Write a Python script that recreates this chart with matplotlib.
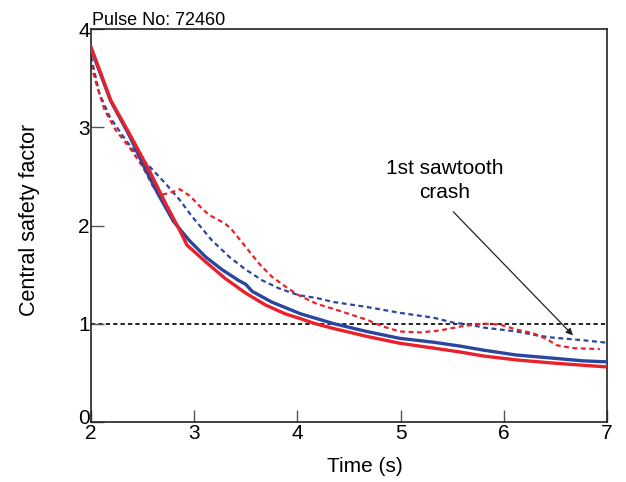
import matplotlib
matplotlib.use("Agg")
import matplotlib.pyplot as plt
import matplotlib.transforms as mtransforms

plt.rcParams['font.family'] = ['Liberation Sans', 'DejaVu Sans']

# Red solid
t_red = [2.0, 2.19, 2.37, 2.56, 2.72, 2.85, 2.93, 3.11, 3.30, 3.50, 3.69, 3.88, 4.03, 4.17, 4.35, 4.67,
         4.99, 5.32, 5.58, 5.80, 6.12, 6.45, 6.77, 6.98]
q_red = [3.82, 3.28, 2.94, 2.57, 2.23, 1.97, 1.80, 1.63, 1.46, 1.31, 1.19, 1.10, 1.05, 1.00, 0.95, 0.87,
         0.80, 0.75, 0.71, 0.67, 0.63, 0.60, 0.575, 0.56]

# Blue solid
t_blue = [2.0, 2.19, 2.37, 2.50, 2.65, 2.80, 2.95, 3.11, 3.27, 3.43, 3.50, 3.56, 3.75, 4.03, 4.35, 4.67,
          4.99, 5.32, 5.58, 5.80, 6.12, 6.45, 6.77, 7.0]
q_blue = [3.80, 3.27, 2.92, 2.63, 2.32, 2.04, 1.85, 1.68, 1.55, 1.44, 1.40, 1.33, 1.22, 1.10, 1.00, 0.92,
          0.85, 0.81, 0.77, 0.73, 0.68, 0.65, 0.62, 0.61]

# Red dashed
t_red_d = [2.0, 2.05, 2.13, 2.24, 2.37, 2.50, 2.60, 2.66, 2.76, 2.86, 2.96, 3.05, 3.14, 3.30, 3.37, 3.50,
           3.63, 3.75, 3.88, 4.01, 4.19, 4.35, 4.67, 4.83, 4.99, 5.19, 5.38, 5.58, 5.80, 5.96, 6.12, 6.29,
           6.42, 6.51, 6.67, 6.93]
q_red_d = [3.64, 3.45, 3.18, 2.97, 2.80, 2.60, 2.40, 2.31, 2.33, 2.37, 2.30, 2.20, 2.11, 2.02, 1.95, 1.78,
           1.61, 1.48, 1.38, 1.29, 1.20, 1.15, 1.04, 0.97, 0.92, 0.91, 0.93, 0.97, 1.00, 0.99, 0.94, 0.90,
           0.84, 0.78, 0.75, 0.74]

# Blue dashed
t_blue_d = [2.0, 2.08, 2.18, 2.31, 2.43, 2.55, 2.72, 2.86, 2.98, 3.17, 3.34, 3.50, 3.66, 3.82, 4.01, 4.19,
            4.35, 4.67, 4.99, 5.32, 5.51, 5.67, 5.80, 6.12, 6.32, 6.45, 6.77, 7.0]
q_blue_d = [3.72, 3.35, 3.11, 2.91, 2.74, 2.62, 2.43, 2.26, 2.09, 1.85, 1.68, 1.55, 1.44, 1.36, 1.29, 1.26,
            1.22, 1.17, 1.11, 1.06, 1.01, 0.99, 0.96, 0.92, 0.88, 0.86, 0.83, 0.805]

x_ticks = [2, 3, 4, 5, 6, 7]
y_ticks = [0, 1, 2, 3, 4]

red = '#e8212b'
blue = '#2c46a0'

fig = plt.figure(figsize=(6.26, 4.82), dpi=100)
ax = fig.add_axes([0.1454, 0.1251, 0.8243, 0.8141])

dash = (0, (2.2, 1.6))
ax.axhline(1.0, color='#222222', lw=1.4, ls=dash, zorder=1)
ax.plot(t_blue_d, q_blue_d, color=blue, lw=1.6, ls=dash, zorder=2)
ax.plot(t_red_d, q_red_d, color=red, lw=1.6, ls=dash, zorder=2)
ax.plot(t_blue, q_blue, color=blue, lw=2.4, zorder=3)
ax.plot(t_red, q_red, color=red, lw=2.4, zorder=4)

ax.set_xlim(2, 7)
ax.set_ylim(0, 4)
ax.set_xticks(x_ticks)
ax.set_yticks(y_ticks)
ax.tick_params(direction='in', length=9, width=1, labelsize=15, color='#555555')
ax.tick_params(axis='y', pad=1)
ax.tick_params(axis='x', pad=2)
for s in ax.spines.values():
    s.set_linewidth(1.2)
    s.set_color('#222222')

# lift the "0" label slightly so it clears the "2"
ylabels = ax.get_yticklabels()
ylabels[0].set_transform(ylabels[0].get_transform() +
                         mtransforms.ScaledTranslation(0, 5 / 100, fig.dpi_scale_trans))

ax.set_xlabel('Time (s)', fontsize=15)
ax.xaxis.label.set_va('center')
ax.xaxis.set_label_coords(0.530, -0.114)
ax.set_ylabel('Central safety factor', fontsize=15.5)
ax.yaxis.label.set_va('center')
ax.yaxis.set_label_coords(-0.119, 0.515)
ax.set_title('Pulse No: 72460', loc='left', fontsize=13, pad=2, x=0.002)

ax.text(5.43, 2.46, '1st sawtooth\ncrash', ha='center', va='center', fontsize=15,
        linespacing=1.3)
ax.annotate('', xy=(6.67, 0.88), xytext=(5.51, 2.14),
            arrowprops=dict(arrowstyle='-|>', color='#222222', lw=0.9,
                            shrinkA=0, shrinkB=0, mutation_scale=10))

fig.savefig('out.png', dpi=100)
